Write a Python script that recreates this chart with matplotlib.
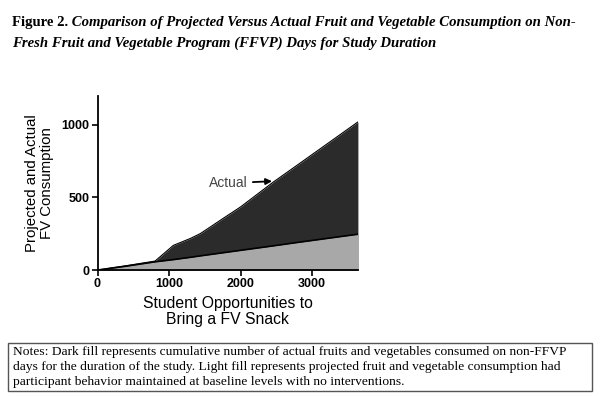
import matplotlib
matplotlib.use("Agg")
import matplotlib.pyplot as plt
from matplotlib.patches import Rectangle

# cumulative values
opportunities = [0, 400, 805, 1060, 1300, 1440, 1720, 2000, 2460, 2790, 3640]
projected = [0, 27, 57, 72, 88, 98, 117, 136, 167, 190, 247]
actual = [0, 30, 62, 170, 218, 252, 344, 435, 607, 722, 1020]

x_ticks = [0, 1000, 2000, 3000]
y_ticks = [0, 500, 1000]

title_bold = "Figure 2."
title_line1 = " Comparison of Projected Versus Actual Fruit and Vegetable Consumption on Non-"
title_line2 = "Fresh Fruit and Vegetable Program (FFVP) Days for Study Duration"
notes = ("Notes: Dark fill represents cumulative number of actual fruits and vegetables consumed on non-FFVP\n"
         "days for the duration of the study. Light fill represents projected fruit and vegetable consumption had\n"
         "participant behavior maintained at baseline levels with no interventions.")

fig = plt.figure(figsize=(6, 3.96), dpi=100)
ax = fig.add_axes([0.1625, 0.318, 0.434, 0.44])

ax.fill_between(opportunities, 0, actual, color="#2b2b2b", lw=0)
ax.fill_between(opportunities, 0, projected, color="#a8a8a8", lw=0)
ax.plot(opportunities, actual, color="black", lw=0.8)
ax.plot(opportunities, projected, color="black", lw=1.2)

ax.set_xlim(0, 3640)
ax.set_ylim(0, 1200)
ax.set_xticks(x_ticks)
ax.set_yticks(y_ticks)
ax.spines["top"].set_visible(False)
ax.spines["right"].set_visible(False)
ax.spines["left"].set_linewidth(1.3)
ax.spines["bottom"].set_linewidth(1.3)
ax.tick_params(direction="out", length=4, width=1.2, pad=2)
for lab in ax.get_xticklabels() + ax.get_yticklabels():
    lab.set_fontfamily("Liberation Sans")
    lab.set_fontweight("bold")
    lab.set_fontsize(9)

ax.set_xlabel("Student Opportunities to\nBring a FV Snack", family="Liberation Sans",
              fontsize=11.3, linespacing=1.05, labelpad=4)
ax.set_ylabel("Projected and Actual\nFV Consumption", family="Liberation Sans",
              fontsize=10.8, linespacing=1.15, labelpad=5)

ax.annotate("Actual", xy=(2440, 612), xytext=(2094, 598), family="Liberation Sans",
            fontsize=10, color="#444444", va="center", ha="right",
            arrowprops=dict(arrowstyle="-|>", color="black", lw=1.3, shrinkA=2, shrinkB=0,
                            mutation_scale=9))

t1 = fig.text(0.02, 0.942, title_bold, family="Liberation Serif", weight="bold",
              fontsize=10.6, va="center")
ax.annotate(title_line1, xy=(1, 0), xycoords=t1, va="bottom", family="Liberation Serif",
            weight="bold", style="italic", fontsize=10.6, annotation_clip=False)
fig.text(0.02, 0.891, title_line2, family="Liberation Serif", weight="bold",
         style="italic", fontsize=10.6, va="center")

fig.add_artist(Rectangle((0.0133, 0.0126), 0.974, 0.122, transform=fig.transFigure,
                         fill=False, ec="#555555", lw=1.0))
fig.text(0.022, 0.073, notes, family="Liberation Serif", fontsize=9.7, va="center",
         linespacing=1.3)

fig.savefig("out.png", dpi=100)
